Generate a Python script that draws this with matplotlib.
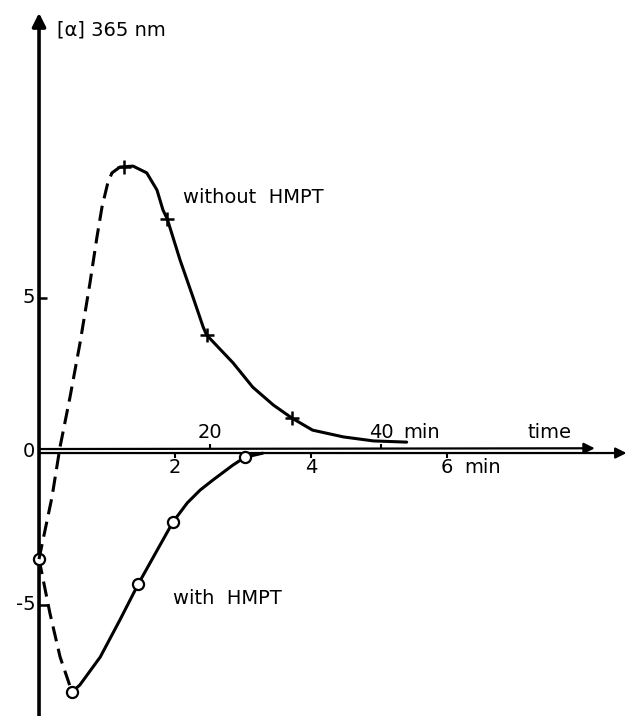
import matplotlib
matplotlib.use("Agg")
import matplotlib.pyplot as plt

# --- data ---
# "with HMPT": lower time scale (0..6 min)
with_pts_t = [0.0, 0.485, 1.46, 1.97, 3.03]
with_pts_v = [-3.52, -7.85, -4.33, -2.31, -0.20]
with_dash_t = [0.0, 0.16, 0.31, 0.485]
with_dash_v = [-3.52, -5.28, -6.71, -7.85]
with_line_t = [0.485, 0.60, 0.90, 1.19, 1.46, 1.74, 1.97, 2.18, 2.37, 2.56, 2.85, 3.03, 3.29]
with_line_v = [-7.85, -7.62, -6.71, -5.50, -4.33, -3.22, -2.31, -1.69, -1.27, -0.94, -0.46, -0.20, -0.07]

# "without HMPT": upper time scale (0..40 min)
without_pts_t = [9.9, 15.0, 19.6, 29.6]
without_pts_v = [9.25, 7.56, 3.78, 1.07]
without_dash_t = [0.0, 1.52, 2.46, 3.63, 4.80, 5.96, 6.78, 7.37, 8.07, 8.54]
without_dash_v = [-3.52, -1.50, 0.13, 1.76, 3.52, 5.47, 6.97, 7.95, 8.76, 9.06]
without_line_t = [8.54, 9.47, 11.0, 12.6, 13.8, 14.5, 15.0, 16.5, 18.0, 19.2, 19.6,
                  22.7, 25.0, 27.4, 29.6, 32.0, 35.6, 39.1, 43.0]
without_line_v = [9.06, 9.25, 9.28, 9.06, 8.50, 7.85, 7.56, 6.22, 5.02, 4.04, 3.78,
                  2.87, 2.08, 1.50, 1.07, 0.68, 0.46, 0.33, 0.29]

lower_ticks = [2, 4, 6]
upper_ticks = [20, 40]
y_ticks = [5, -5]

# --- figure ---
fig = plt.figure(figsize=(6.27, 7.16), dpi=100)
ax = fig.add_axes([0, 0, 1, 1])
ax.set_xlim(-0.574, 8.647)
ax.set_ylim(-8.63, 14.69)
ax.axis("off")

# second time scale (minutes, without HMPT) sharing the same origin
ax2 = ax.twiny()
ax2.set_xlim(-4.56, 68.77)
ax2.axis("off")

fs = 14
k = "black"

# axes drawn by hand like the original
ax.annotate("", xy=(0, 14.27), xytext=(0, -8.7),
            arrowprops=dict(arrowstyle="-|>", lw=2.6, color=k, mutation_scale=20,
                            shrinkA=0, shrinkB=0))
ax.annotate("", xy=(8.64, -0.065), xytext=(0, -0.065),
            arrowprops=dict(arrowstyle="-|>", lw=1.6, color=k, mutation_scale=16,
                            shrinkA=0, shrinkB=0))
ax2.annotate("", xy=(65.0, 0.09), xytext=(0, 0.065),
             arrowprops=dict(arrowstyle="-|>", lw=1.6, color=k, mutation_scale=16,
                             shrinkA=0, shrinkB=0))

# ticks
ax.vlines(lower_ticks, -0.23, -0.065, color=k, lw=1.5)
ax2.vlines(upper_ticks, 0.065, 0.23, color=k, lw=1.5)
ax.hlines(y_ticks, 0, 0.12, color=k, lw=1.8)

# tick labels
ax.text(-0.15, 0, "0", ha="center", va="center", fontsize=fs)
ax.text(-0.15, 5, "5", ha="center", va="center", fontsize=fs)
ax.text(-0.05, -5, "-5", ha="right", va="center", fontsize=fs)
for t in lower_ticks:
    ax.text(t, -0.55, str(t), ha="center", va="center", fontsize=fs)
ax.text(6.26, -0.55, "min", ha="left", va="center", fontsize=fs)
for t in upper_ticks:
    ax2.text(t, 0.6, str(t), ha="center", va="center", fontsize=fs)
ax2.text(42.6, 0.6, "min", ha="left", va="center", fontsize=fs)
ax.text(7.18, 0.6, "time", ha="left", va="center", fontsize=fs)
ax.text(0.26, 13.7, "[α] 365 nm", ha="left", va="center", fontsize=fs)
ax.text(2.12, 8.27, "without  HMPT", ha="left", va="center", fontsize=fs)
ax.text(1.97, -4.79, "with  HMPT", ha="left", va="center", fontsize=fs)

# curves
ax2.plot(without_dash_t, without_dash_v, color=k, lw=2.2, dashes=(5, 2.5))
ax2.plot(without_line_t, without_line_v, color=k, lw=2.2, solid_capstyle="round",
         solid_joinstyle="round")
ax2.plot(without_pts_t, without_pts_v, ls="none", marker="+", ms=10, mew=1.8, color=k, zorder=5)

ax.plot(with_dash_t, with_dash_v, color=k, lw=2.2, dashes=(5, 2.5))
ax.plot(with_line_t, with_line_v, color=k, lw=2.2, solid_capstyle="round",
        solid_joinstyle="round")
ax.plot(with_pts_t, with_pts_v, ls="none", marker="o", ms=8, mew=1.6, mfc="white",
        mec=k, zorder=5)

fig.savefig("out.png", dpi=100)
